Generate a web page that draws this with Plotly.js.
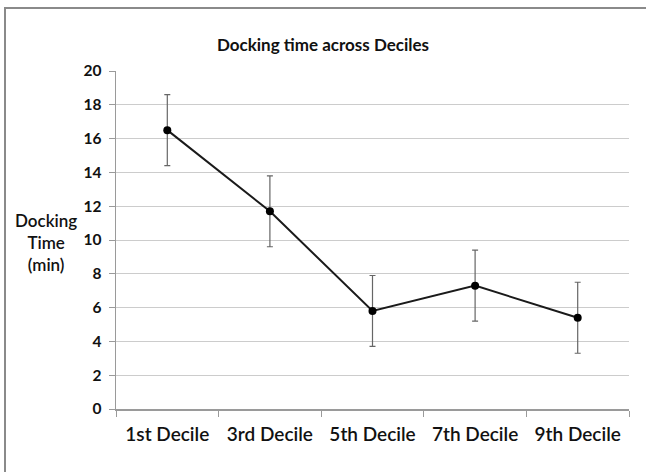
<!DOCTYPE html>
<html><head><meta charset="utf-8">
<script src="https://cdn.plot.ly/plotly-3.0.1.min.js"></script>
<style>
html,body{margin:0;padding:0;background:#fff;}
#wrap{position:relative;width:646px;height:472px;overflow:hidden;}
#chart{position:absolute;left:0;top:0;width:646px;height:472px;}
#frame{position:absolute;left:4px;top:7px;width:700px;height:600px;border-left:2px solid #8a8a8a;border-top:2px solid #8a8a8a;pointer-events:none;}
</style></head>
<body>
<div id="wrap"><div id="chart"></div><div id="frame"></div></div>
<script>
const categories = ["1st Decile","3rd Decile","5th Decile","7th Decile","9th Decile"];
const dockingTime = [16.5, 11.7, 5.8, 7.3, 5.4];
const errorHalf = [2.1, 2.1, 2.1, 2.1, 2.1];
const yTicks = [0,2,4,6,8,10,12,14,16,18,20];

const trace = {
  x: categories, y: dockingTime, type: "scatter", mode: "lines+markers",
  line: {color: "#1a1a1a", width: 2},
  marker: {color: "#000", size: 8},
  error_y: {type: "data", array: errorHalf, visible: true, color: "#666", thickness: 1.2, width: 3},
  cliponaxis: false
};
const font = "Lato, 'Open Sans', sans-serif";
const layout = {
  width: 646, height: 472,
  margin: {l: 116, r: 17, t: 71, b: 63},
  paper_bgcolor: "#fff", plot_bgcolor: "#fff",
  showlegend: false,
  title: {text: "Docking time across Deciles", x: 0.5, xanchor: "center", y: 0.905, yanchor: "middle",
          font: {family: font, size: 17, color: "#111", weight: 700}},
  xaxis: {type: "category", range: [-0.5, 4.5], tickson: "boundaries", ticks: "outside", ticklen: 6,
          tickcolor: "#9a9a9a", showline: true, linecolor: "#9a9a9a", linewidth: 1.5, showgrid: false,
          ticklabelstandoff: 8,
          tickfont: {family: font, size: 19, color: "#111", weight: 600}, zeroline: false},
  yaxis: {range: [0, 20], tickvals: yTicks, ticks: "outside", ticklen: 6, tickcolor: "#9a9a9a",
          showline: true, linecolor: "#9a9a9a", linewidth: 1.5, showgrid: true, gridcolor: "#cccccc", gridwidth: 1,
          ticklabelstandoff: 4,
          zeroline: false, tickfont: {family: font, size: 15.5, color: "#111", weight: 700}},
  annotations: [{text: "Docking<br>Time<br>(min)", xref: "paper", yref: "paper", x: -0.136, y: 0.494,
                 xanchor: "center", yanchor: "middle", showarrow: false, align: "center",
                 font: {family: font, size: 17, color: "#111", weight: 600}}]
};
Plotly.newPlot("chart", [trace], layout, {displayModeBar: false, staticPlot: true});
</script>
</body></html>
